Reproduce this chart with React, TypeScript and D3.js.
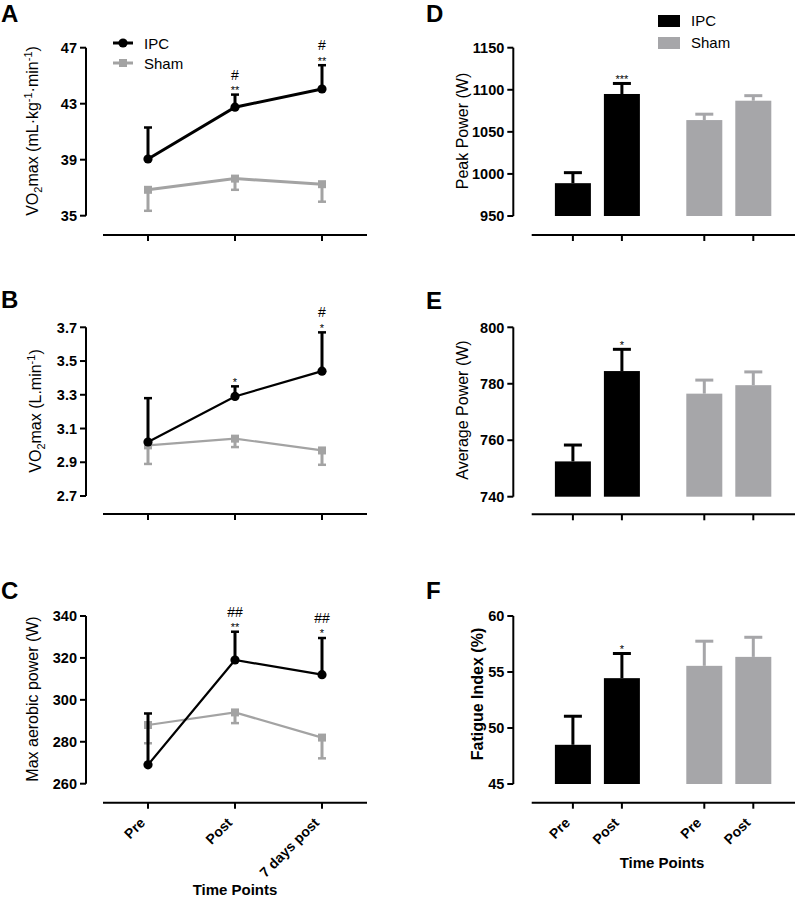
import React from "react";
import * as d3 from "d3";

const FONT = "'Liberation Sans', Arial, Helvetica, sans-serif";
const GRAY_LINE = "#a3a3a3";
const GRAY_BAR = "#a6a6a9";

// ---- Line panels (A, B, C) ----
const timeLabels = ["Pre", "Post", "7 days post"];

const ipcA = [39.05, 42.75, 44.05];
const ipcASd = [2.25, 0.9, 1.7];
const shamA = [36.85, 37.65, 37.25];
const shamASd = [1.5, 0.8, 1.25];
const annotA = [[], ["#", "**"], ["#", "**"]];
const ticksA = [35, 39, 43, 47];

const ipcB = [3.02, 3.29, 3.44];
const ipcBSd = [0.26, 0.06, 0.23];
const shamB = [3.0, 3.04, 2.97];
const shamBSd = [0.11, 0.05, 0.085];
const annotB = [[], ["*"], ["#", "*"]];
const ticksB = [2.7, 2.9, 3.1, 3.3, 3.5, 3.7];

const ipcC = [269, 319, 312];
const ipcCSd = [24.5, 13.5, 17.5];
const shamC = [288, 294, 282];
const shamCSd = [8.7, 5.1, 9.9];
const annotC = [[], ["##", "**"], ["##", "*"]];
const ticksC = [260, 280, 300, 320, 340];

// ---- Bar panels (D, E, F) ----
const groups = ["IPC", "Sham"];
const barTimes = ["Pre", "Post"];

const peakIPC = [989, 1095];
const peakIPCSd = [12.5, 12.5];
const peakSham = [1064, 1087];
const peakShamSd = [7, 6];
const annotD = [[], ["***"]];
const ticksD = [950, 1000, 1050, 1100, 1150];

const avgIPC = [752.5, 784.5];
const avgIPCSd = [5.8, 7.7];
const avgSham = [776.5, 779.5];
const avgShamSd = [4.8, 4.7];
const annotE = [[], ["*"]];
const ticksE = [740, 760, 780, 800];

const fatIPC = [48.5, 54.45];
const fatIPCSd = [2.55, 2.2];
const fatSham = [55.55, 56.35];
const fatShamSd = [2.2, 1.75];
const annotF = [[], ["*"]];
const ticksF = [45, 50, 55, 60];

function Annot({ x, yTop, lines }: { x: number; yTop: number; lines: string[] }) {
  if (!lines.length) return null;
  const stars = lines[lines.length - 1];
  const hash = lines.length > 1 ? lines[0] : null;
  const starCenter = yTop - 7;
  return (
    <g fontFamily={FONT} textAnchor="middle" fill="#000">
      <text x={x} y={starCenter + 6.3} fontSize={11}>{stars}</text>
      {hash && <text x={x} y={starCenter - 13 + 4.9} fontSize={14}>{hash}</text>}
    </g>
  );
}

function YAxis({ x, y, ticks, fmt }: { x: number; y: d3.ScaleLinear<number, number>; ticks: number[]; fmt: (v: number) => string }) {
  const [lo, hi] = d3.extent(ticks) as [number, number];
  return (
    <g>
      <line x1={x} x2={x} y1={y(lo)} y2={y(hi)} stroke="#000" strokeWidth={2} />
      {ticks.map((t) => (
        <g key={t}>
          <line x1={x - 6} x2={x} y1={y(t)} y2={y(t)} stroke="#000" strokeWidth={2} />
          <text x={x - 9} y={y(t)} dy="0.36em" textAnchor="end" fontFamily={FONT} fontWeight="bold" fontSize={14.5}>
            {fmt(t)}
          </text>
        </g>
      ))}
    </g>
  );
}

function XAxis({ x1, x2, y, ticks, labels }: { x1: number; x2: number; y: number; ticks: number[]; labels?: string[] }) {
  return (
    <g>
      <line x1={x1} x2={x2} y1={y} y2={y} stroke="#000" strokeWidth={2} />
      {ticks.map((t, i) => (
        <g key={i}>
          <line x1={t} x2={t} y1={y} y2={y + 6} stroke="#000" strokeWidth={2} />
          {labels && (
            <text
              transform={`translate(${t - 2},${y + 21}) rotate(-45)`}
              textAnchor="end"
              fontFamily={FONT}
              fontWeight="bold"
              fontSize={14}
            >
              {labels[i]}
            </text>
          )}
        </g>
      ))}
    </g>
  );
}

type LineProps = {
  yDomain: [number, number];
  yRange: [number, number];
  axisY: number;
  ticks: number[];
  fmt: (v: number) => string;
  ipc: number[];
  ipcSd: number[];
  sham: number[];
  shamSd: number[];
  annot: string[][];
  lw: number;
  showLabels?: boolean;
};

function LinePanel(p: LineProps) {
  const x = d3.scalePoint<string>().domain(timeLabels).range([148, 322]);
  const y = d3.scaleLinear().domain(p.yDomain).range(p.yRange);
  const line = d3
    .line<number>()
    .x((_, i) => x(timeLabels[i]) as number)
    .y((d) => y(d));
  const cap = 4;
  return (
    <g>
      <YAxis x={86} y={y} ticks={p.ticks} fmt={p.fmt} />
      <XAxis
        x1={103}
        x2={367}
        y={p.axisY}
        ticks={timeLabels.map((t) => x(t) as number)}
        labels={p.showLabels ? timeLabels : undefined}
      />
      {/* Sham */}
      <path d={line(p.sham) as string} fill="none" stroke={GRAY_LINE} strokeWidth={p.lw} />
      {p.sham.map((v, i) => {
        const cx = x(timeLabels[i]) as number;
        const yb = y(v - p.shamSd[i]);
        return (
          <g key={"s" + i}>
            <line x1={cx} x2={cx} y1={y(v)} y2={yb} stroke={GRAY_LINE} strokeWidth={3} />
            <line x1={cx - cap} x2={cx + cap} y1={yb} y2={yb} stroke={GRAY_LINE} strokeWidth={2.5} />
            <rect x={cx - 4} y={y(v) - 4} width={8} height={8} fill={GRAY_LINE} />
          </g>
        );
      })}
      {/* IPC */}
      <path d={line(p.ipc) as string} fill="none" stroke="#000" strokeWidth={p.lw} />
      {p.ipc.map((v, i) => {
        const cx = x(timeLabels[i]) as number;
        const yt = y(v + p.ipcSd[i]);
        return (
          <g key={"i" + i}>
            <line x1={cx} x2={cx} y1={y(v)} y2={yt} stroke="#000" strokeWidth={3} />
            <line x1={cx - cap} x2={cx + cap} y1={yt} y2={yt} stroke="#000" strokeWidth={2.5} />
            <circle cx={cx} cy={y(v)} r={4.6} fill="#000" />
            <Annot x={cx} yTop={yt} lines={p.annot[i]} />
          </g>
        );
      })}
    </g>
  );
}

type BarProps = {
  yDomain: [number, number];
  yRange: [number, number];
  axisY: number;
  ticks: number[];
  ipc: number[];
  ipcSd: number[];
  sham: number[];
  shamSd: number[];
  annot: string[][];
  showLabels?: boolean;
};

function BarPanel(p: BarProps) {
  const x0 = d3.scaleBand<string>().domain(groups).range([531.7, 794.5]).padding(0);
  const x1 = d3.scalePoint<string>().domain(barTimes).range([-24.5, 24.5]);
  const y = d3.scaleLinear().domain(p.yDomain).range(p.yRange);
  const bw = 36;
  const base = p.yDomain[0];
  const series = [
    { g: "IPC", vals: p.ipc, sd: p.ipcSd, color: "#000" },
    { g: "Sham", vals: p.sham, sd: p.shamSd, color: GRAY_BAR },
  ];
  const tickXs: number[] = [];
  const tickLabels: string[] = [];
  series.forEach((s) =>
    barTimes.forEach((t) => {
      tickXs.push((x0(s.g) as number) + x0.bandwidth() / 2 + (x1(t) as number));
      tickLabels.push(t);
    })
  );
  return (
    <g>
      <YAxis x={513.3} y={y} ticks={p.ticks} fmt={(v) => String(v)} />
      <XAxis x1={531.7} x2={795} y={p.axisY} ticks={tickXs} labels={p.showLabels ? tickLabels : undefined} />
      {series.map((s) =>
        s.vals.map((v, i) => {
          const cx = (x0(s.g) as number) + x0.bandwidth() / 2 + (x1(barTimes[i]) as number);
          const yt = y(v + s.sd[i]);
          return (
            <g key={s.g + i}>
              <line x1={cx} x2={cx} y1={y(v)} y2={yt} stroke={s.color} strokeWidth={3} />
              <line x1={cx - 9} x2={cx + 9} y1={yt} y2={yt} stroke={s.color} strokeWidth={3} />
              <rect x={cx - bw / 2} y={y(v)} width={bw} height={y(base) - y(v)} fill={s.color} />
              {s.g === "IPC" && <Annot x={cx} yTop={yt} lines={p.annot[i]} />}
            </g>
          );
        })
      )}
    </g>
  );
}

function Letter({ x, y, t }: { x: number; y: number; t: string }) {
  return (
    <text x={x} y={y} fontFamily={FONT} fontWeight="bold" fontSize={24}>
      {t}
    </text>
  );
}

function YTitle({ x, y, children, bold }: { x: number; y: number; children: React.ReactNode; bold?: boolean }) {
  return (
    <text
      transform={`translate(${x + 6},${y}) rotate(-90)`}
      textAnchor="middle"
      fontFamily={FONT}
      fontSize={16}
      fontWeight={bold ? "bold" : "normal"}
    >
      {children}
    </text>
  );
}

export default function App() {
  const f0 = (v: number) => String(v);
  const f1 = d3.format(".1f");
  return (
    <svg width={795} height={897} style={{ position: "absolute", left: 0, top: 0, background: "#fff" }}>
      <rect width={795} height={897} fill="#fff" />
      {/* Panel letters */}
      <Letter x={1} y={22} t="A" />
      <Letter x={1} y={308} t="B" />
      <Letter x={1} y={599} t="C" />
      <Letter x={426} y={22} t="D" />
      <Letter x={426} y={309} t="E" />
      <Letter x={426} y={599} t="F" />

      {/* A */}
      <LinePanel
        yDomain={[35, 47]}
        yRange={[215.7, 47.7]}
        axisY={235}
        ticks={ticksA}
        fmt={f0}
        ipc={ipcA}
        ipcSd={ipcASd}
        sham={shamA}
        shamSd={shamASd}
        annot={annotA}
        lw={3}
      />
      <YTitle x={32} y={131}>
        VO<tspan fontSize={11} dy={4}>2</tspan>
        <tspan dy={-4}>max (mL·kg</tspan>
        <tspan fontSize={11} dy={-6}>-1</tspan>
        <tspan dy={6}>·min</tspan>
        <tspan fontSize={11} dy={-6}>-1</tspan>
        <tspan dy={6}>)</tspan>
      </YTitle>
      {/* Legend A */}
      <line x1={113} x2={133} y1={43} y2={43} stroke="#000" strokeWidth={3} />
      <circle cx={123} cy={43} r={4.6} fill="#000" />
      <text x={144} y={48.5} fontFamily={FONT} fontSize={15}>IPC</text>
      <line x1={113} x2={133} y1={63} y2={63} stroke={GRAY_LINE} strokeWidth={3} />
      <rect x={119} y={59} width={8} height={8} fill={GRAY_LINE} />
      <text x={144} y={68.5} fontFamily={FONT} fontSize={15}>Sham</text>

      {/* B */}
      <LinePanel
        yDomain={[2.7, 3.7]}
        yRange={[496, 327.3]}
        axisY={514}
        ticks={ticksB}
        fmt={f1}
        ipc={ipcB}
        ipcSd={ipcBSd}
        sham={shamB}
        shamSd={shamBSd}
        annot={annotB}
        lw={2.2}
      />
      <YTitle x={35} y={411}>
        VO<tspan fontSize={11} dy={4}>2</tspan>
        <tspan dy={-4}>max (L.min</tspan>
        <tspan fontSize={11} dy={-6}>-1</tspan>
        <tspan dy={6}>)</tspan>
      </YTitle>

      {/* C */}
      <LinePanel
        yDomain={[260, 340]}
        yRange={[783.7, 616]}
        axisY={802.7}
        ticks={ticksC}
        fmt={f0}
        ipc={ipcC}
        ipcSd={ipcCSd}
        sham={shamC}
        shamSd={shamCSd}
        annot={annotC}
        lw={2.2}
        showLabels
      />
      <YTitle x={32} y={699}>Max aerobic power (W)</YTitle>
      <text x={235} y={895} textAnchor="middle" fontFamily={FONT} fontWeight="bold" fontSize={15}>
        Time Points
      </text>

      {/* D */}
      <BarPanel
        yDomain={[950, 1150]}
        yRange={[216, 47.7]}
        axisY={235}
        ticks={ticksD}
        ipc={peakIPC}
        ipcSd={peakIPCSd}
        sham={peakSham}
        shamSd={peakShamSd}
        annot={annotD}
      />
      <YTitle x={461.7} y={131}>Peak Power (W)</YTitle>
      {/* Legend D */}
      <rect x={658} y={15} width={22} height={12} fill="#000" />
      <text x={691} y={26} fontFamily={FONT} fontSize={15}>IPC</text>
      <rect x={658} y={37} width={22} height={12} fill={GRAY_BAR} />
      <text x={691} y={48} fontFamily={FONT} fontSize={15}>Sham</text>

      {/* E */}
      <BarPanel
        yDomain={[740, 800]}
        yRange={[496.7, 327.3]}
        axisY={514.3}
        ticks={ticksE}
        ipc={avgIPC}
        ipcSd={avgIPCSd}
        sham={avgSham}
        shamSd={avgShamSd}
        annot={annotE}
      />
      <YTitle x={461.7} y={410}>Average Power (W)</YTitle>

      {/* F */}
      <BarPanel
        yDomain={[45, 60]}
        yRange={[784, 616]}
        axisY={802.7}
        ticks={ticksF}
        ipc={fatIPC}
        ipcSd={fatIPCSd}
        sham={fatSham}
        shamSd={fatShamSd}
        annot={annotF}
        showLabels
      />
      <YTitle x={476.7} y={694} bold>Fatigue Index (%)</YTitle>
      <text x={662} y={868} textAnchor="middle" fontFamily={FONT} fontWeight="bold" fontSize={15}>
        Time Points
      </text>
    </svg>
  );
}
